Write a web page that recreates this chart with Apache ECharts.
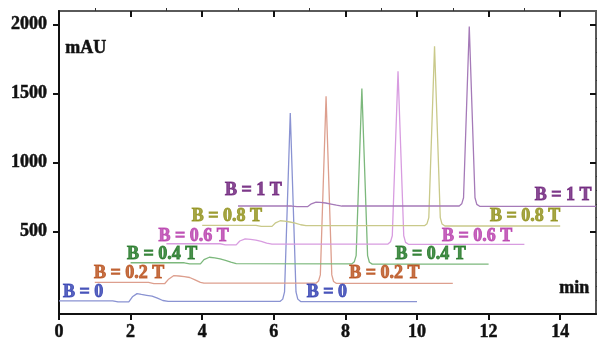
<!DOCTYPE html>
<html>
<head>
<meta charset="utf-8">
<script src="https://cdn.jsdelivr.net/npm/echarts@6/dist/echarts.min.js"></script>
<style>
  html, body { margin: 0; padding: 0; background: #fff; }
  #chart { width: 597px; height: 342px; }
</style>
</head>
<body>
<div id="chart"></div>
<script>
// Chromatograms recorded at increasing magnetic field, stacked with a
// 1 min / ~135 mAU offset per trace. Points are [time (min), signal (mAU)].
const traceNames = ['B = 0', 'B = 0.2 T', 'B = 0.4 T', 'B = 0.6 T', 'B = 0.8 T', 'B = 1 T'];

const traceB00 = [[0,-4],[1.5,-4],[1.65,-12],[1.95,-12],[2.05,25],[2.18,48],[2.3,42],[2.45,36],[2.6,30],[2.75,15],[2.9,-2],[3.05,-8],
  [6.18,-8],[6.25,8],[6.3,60],[6.46,1360],[6.62,60],[6.67,8],[6.75,-10],[10,-10]];
const traceB02 = [[1,129],[2.5,129],[2.65,120],[2.95,120],[3.05,150],[3.2,178],[3.35,176],[3.5,172],[3.65,165],[3.8,148],[3.95,130],[4.05,124],
  [7.18,124],[7.25,140],[7.3,184],[7.46,1481],[7.62,184],[7.67,136],[7.75,122],[11,122]];
const traceB04 = [[2,272],[3.5,272],[3.65,264],[3.95,264],[4.05,295],[4.2,312],[4.35,308],[4.5,300],[4.65,290],[4.8,276],[4.95,266],
  [8.18,264],[8.25,280],[8.3,324],[8.46,1537],[8.62,324],[8.67,276],[8.75,262],[12,262]];
const traceB06 = [[3,410],[4.5,410],[4.65,402],[4.95,402],[5.05,430],[5.2,445],[5.35,442],[5.5,436],[5.65,428],[5.8,414],[5.95,408],
  [9.19,408],[9.26,424],[9.31,468],[9.47,1662],[9.63,468],[9.68,420],[9.76,406],[13,406]];
const traceB08 = [[4,543],[5.5,543],[5.65,536],[5.95,536],[6.05,562],[6.18,577],[6.3,574],[6.45,568],[6.6,560],[6.75,548],[6.9,541],
  [10.21,541],[10.28,556],[10.33,600],[10.49,1843],[10.65,600],[10.7,553],[10.78,539],[14,539]];
const traceB10 = [[5,684],[6.5,684],[6.65,680],[6.95,680],[7.05,700],[7.18,712],[7.3,710],[7.45,706],[7.6,698],[7.75,690],[7.9,684],
  [11.18,684],[11.25,700],[11.3,744],[11.46,1987],[11.62,744],[11.67,696],[11.75,682],[15,682]];
const traces = [traceB00, traceB02, traceB04, traceB06, traceB08, traceB10];

// Where each trace's name is written: left-hand and right-hand copies [time, mAU]
const labelLeft  = [[0.11,60],[0.98,192],[1.9,335],[2.78,465],[3.71,608],[4.64,796]];
const labelRight = [[6.92,60],[8.11,192],[9.40,335],[10.70,465],[12.04,608],[13.29,758]];

// Axis ticks
const xLabelTicks = [0, 2, 4, 6, 8, 10, 12, 14];
const xMinorTicks = [1, 3, 5, 7, 9, 11, 13];
const yLabelTicks = [500, 1000, 1500, 2000];
const yMinorTicks = [0,100,200,300,400,600,700,800,900,1100,1200,1300,1400,1600,1700,1800,1900];

const lineColors = ['#8a93d2', '#dd9f8e', '#7cb87c', '#d89ce0', '#c9c98a', '#a57ab8'];
const textColors = ['#2f3db0', '#b84e18', '#1d7421', '#b83dac', '#909018', '#6a1d78'];

const FONT = 'Liberation Serif, Times New Roman, serif';

const chart = echarts.init(document.getElementById('chart'), null, { renderer: 'canvas' });

const xBase = { type: 'value', min: 0, max: 15, gridIndex: 0, splitLine: { show: false } };
const yBase = { type: 'value', min: -100, max: 2100, gridIndex: 0, splitLine: { show: false } };

const series = [];
traces.forEach((pts, i) => {
  series.push({
    type: 'line', name: traceNames[i], data: pts, showSymbol: false, smooth: false,
    lineStyle: { color: lineColors[i], width: 1.3 }, silent: true, z: 2
  });
});
traces.forEach((pts, i) => {
  series.push({
    type: 'scatter', symbolSize: 0, silent: true, z: 3,
    data: [labelLeft[i], labelRight[i]],
    label: {
      show: true, position: 'right', distance: 0,
      formatter: traceNames[i],
      color: textColors[i], fontFamily: FONT, fontWeight: 'bold', fontSize: 18,
      textBorderColor: textColors[i], textBorderWidth: 0.9
    }
  });
});

const tickFont = { color: '#111', fontFamily: FONT, fontWeight: 'bold', fontSize: 18,
  textBorderColor: '#111', textBorderWidth: 0.5, formatter: v => String(v) };

chart.setOption({
  animation: false,
  backgroundColor: '#fff',
  grid: { left: 59, right: 1, top: 11, bottom: 28, show: true, borderColor: '#5a5a5a', borderWidth: 2 },
  xAxis: [
    Object.assign({}, xBase, {
      axisLine: { show: true, onZero: false, lineStyle: { color: '#111', width: 2 } },
      axisTick: { show: true, inside: false, length: 6, customValues: xLabelTicks, lineStyle: { color: '#111', width: 2 } },
      axisLabel: Object.assign({ show: true, customValues: xLabelTicks, margin: 9 }, tickFont)
    }),
    Object.assign({}, xBase, {
      axisLine: { show: false, onZero: false },
      axisTick: { show: true, inside: true, length: 6, customValues: xLabelTicks, lineStyle: { color: '#111', width: 2 } },
      axisLabel: { show: false }
    }),
    Object.assign({}, xBase, {
      axisLine: { show: false, onZero: false },
      axisTick: { show: true, inside: false, length: 3, customValues: xMinorTicks, lineStyle: { color: '#333', width: 1 } },
      axisLabel: { show: false }
    })
  ],
  yAxis: [
    Object.assign({}, yBase, {
      axisLine: { show: true, onZero: false, lineStyle: { color: '#111', width: 2 } },
      axisTick: { show: true, inside: false, length: 6, customValues: yLabelTicks, lineStyle: { color: '#111', width: 2 } },
      axisLabel: Object.assign({ show: true, customValues: yLabelTicks, margin: 12 }, tickFont)
    }),
    Object.assign({}, yBase, {
      axisLine: { show: false, onZero: false },
      axisTick: { show: true, inside: true, length: 6, customValues: yLabelTicks, lineStyle: { color: '#111', width: 2 } },
      axisLabel: { show: false }
    }),
    Object.assign({}, yBase, {
      axisLine: { show: false, onZero: false },
      axisTick: { show: true, inside: false, length: 3, customValues: yMinorTicks, lineStyle: { color: '#333', width: 1 } },
      axisLabel: { show: false }
    })
  ],
  graphic: [
    { type: 'text', left: 65, top: 39, style: { text: 'mAU', fill: '#111', font: 'bold 18px ' + FONT, stroke: '#111', lineWidth: 0.5 } },
    { type: 'text', left: 559, top: 279, style: { text: 'min', fill: '#111', font: 'bold 18px ' + FONT, stroke: '#111', lineWidth: 0.5 } }
  ],
  series: series
});
</script>
</body>
</html>
